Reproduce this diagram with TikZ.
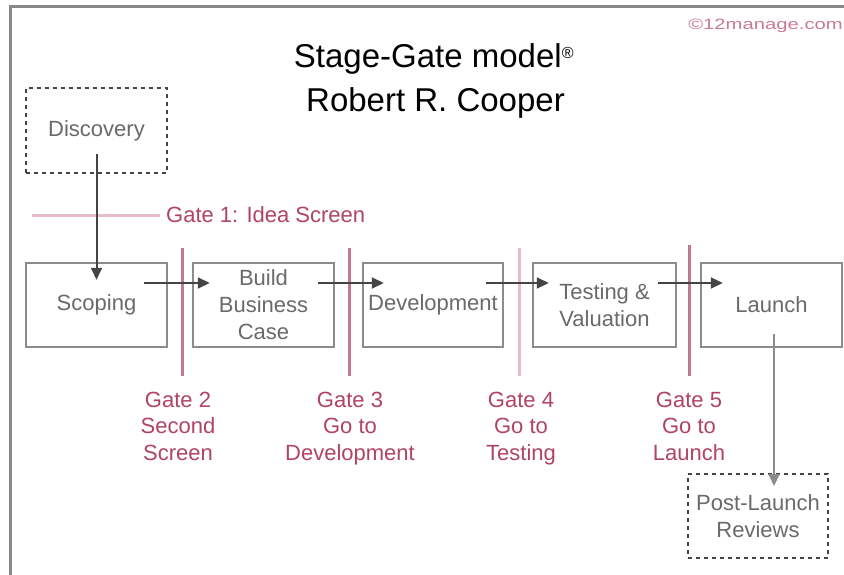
\documentclass[tikz,border=0pt]{standalone}
\usepackage{fontspec}
\setmainfont{Liberation Sans}
\usetikzlibrary{arrows.meta}
\definecolor{framegray}{HTML}{888888}
\definecolor{boxgray}{HTML}{8C8C8C}
\definecolor{stagetext}{HTML}{6A6A6A}
\definecolor{gatered}{HTML}{B04462}
\definecolor{gateline}{HTML}{C27A8C}
\definecolor{gatelight}{HTML}{E6BCC6}
\definecolor{arrowgray}{HTML}{444444}
\tikzset{
  stagebox/.style={draw=boxgray, line width=2.5pt, minimum height=84pt, inner sep=0pt,
    text=stagetext, align=center, font=\fontsize{22}{27}\selectfont},
  dashbox/.style={draw=arrowgray, line width=2pt, dash pattern=on 4pt off 4pt,
    minimum width=140pt, minimum height=84pt, inner sep=0pt,
    text=stagetext, align=center, font=\fontsize{22}{27}\selectfont},
  flow/.style={draw=arrowgray, line width=2pt, -{Triangle[length=12pt,width=11pt]}},
  gatebar/.style={draw=gateline, line width=3pt},
  gatelabel/.style={text=gatered, align=center, inner sep=0pt, anchor=north,
    font=\fontsize{22}{26.5}\selectfont},
  titletext/.style={font=\fontsize{33}{40}\selectfont, inner sep=0pt, anchor=base}
}
\begin{document}
\begin{tikzpicture}[x=1pt, y=-1pt]
\useasboundingbox (0,0) rectangle (844,575);
\fill[white] (0,0) rectangle (844,575);

% outer frame (top and left edges)
\draw[framegray, line width=3pt] (10.5,575) -- (10.5,6.5) -- (844,6.5);

% heading and credit
\node[titletext] (title1) at (434,68) {Stage-Gate model\textsuperscript{\fontsize{16}{16}\selectfont ®}};
\node[titletext] (title2) at (435.5,112) {Robert R. Cooper};
\node[anchor=base east, inner sep=0pt, text=gatered!70] (credit) at (843,30)
  {\scalebox{1.35}[1]{\fontsize{15}{18}\selectfont ©12manage.com}};

% stages
\node[dashbox, minimum width=141pt, minimum height=85pt] (disc) at (96.5,130.5) {Discovery};
\node[stagebox, minimum width=141pt] (scop) at (96.5,305) {Scoping};
\node[stagebox, minimum width=141pt] (bbc) at (263.5,305) {Build\\Business\\Case};
\node[stagebox, minimum width=140pt] (dev) at (433,305) {Development};
\node[stagebox, minimum width=143pt] (test) at (604.5,305) {Testing \&\\Valuation};
\node[stagebox, minimum width=141pt] (launch) at (771.5,305) {Launch};
\node[dashbox] (post) at (758,516) {Post-Launch\\Reviews};

% gate 1
\draw[draw=gatelight, line width=3pt] (32,216) -- (160,216);
\node[gatelabel, anchor=west] (g1) at (166,215) {Gate 1: Idea Screen};

% gates 2-5
\draw[gatebar] (182,248) -- (182,376);
\draw[gatebar] (349,248) -- (349,376);
\draw[gatebar, draw=gatelight] (519,248) -- (519,376);
\draw[gatebar] (689,245) -- (689,376);
\node[gatelabel] (g2) at (178,388.5) {\strut Gate 2\\Second\\Screen};
\node[gatelabel] (g3) at (350,388.5) {\strut Gate 3\\Go to\\Development};
\node[gatelabel] (g4) at (521,388.5) {\strut Gate 4\\Go to\\Testing};
\node[gatelabel] (g5) at (689,388.5) {\strut Gate 5\\Go to\\Launch};

% flow between stages
\draw[flow] ([shift={(0,-20)}]disc.south) -- ([shift={(0,18)}]scop.north);
\draw[flow] ([shift={(-24,-22)}]scop.east) -- ([shift={(18,-22)}]bbc.west);
\draw[flow] ([shift={(-17,-22)}]bbc.east) -- ([shift={(22,-22)}]dev.west);
\draw[flow] ([shift={(-18,-22)}]dev.east) -- ([shift={(17,-22)}]test.west);
\draw[flow] ([shift={(-19,-22)}]test.east) -- ([shift={(23,-22)}]launch.west);
\draw[flow, draw=boxgray] ([shift={(2.5,-14)}]launch.south) -- ([shift={(16,13)}]post.north);
\end{tikzpicture}
\end{document}
